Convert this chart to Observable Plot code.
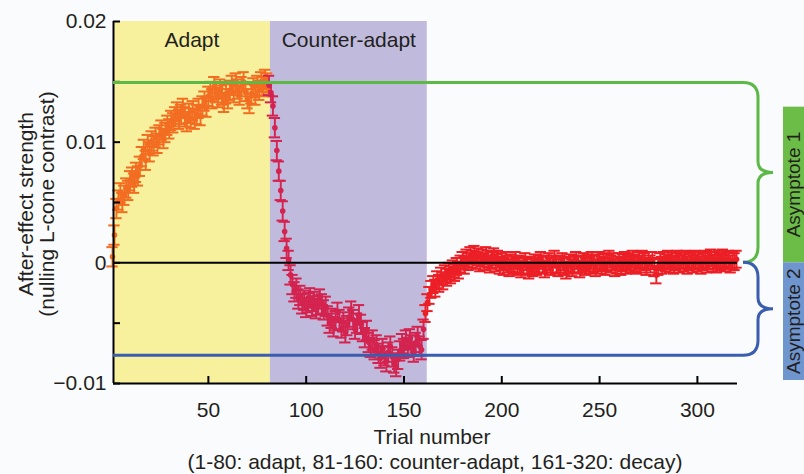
<!DOCTYPE html>
<html>
<head>
<meta charset="utf-8">
<script src="https://cdn.jsdelivr.net/npm/d3@7"></script>
<script src="https://cdn.jsdelivr.net/npm/@observablehq/plot@0.6"></script>
<style>
  html, body { margin: 0; padding: 0; background: #fafbfc; overflow: hidden; }
  #chart svg { display: block; overflow: hidden; }
</style>
</head>
<body>
<div id="chart"></div>
<script>
// Mean after-effect strength per trial (nulling L-cone contrast)
// Trials 1-80: adapt
const adaptValues = [
  0.0005, 0.0023, 0.0045, 0.0052, 0.0058, 0.0050, 0.0056, 0.0062, 0.0060, 0.0068,
  0.0071, 0.0066, 0.0075, 0.0072, 0.0080, 0.0088, 0.0094, 0.0085, 0.0098, 0.0092,
  0.0101, 0.0097, 0.0104, 0.0099, 0.0106, 0.0110, 0.0103, 0.0108, 0.0114, 0.0111,
  0.0118, 0.0116, 0.0121, 0.0125, 0.0119, 0.0123, 0.0128, 0.0121, 0.0117, 0.0124,
  0.0120, 0.0126, 0.0119, 0.0123, 0.0128, 0.0122, 0.0130, 0.0134, 0.0129, 0.0138,
  0.0142, 0.0136, 0.0146, 0.0141, 0.0137, 0.0144, 0.0139, 0.0133, 0.0140, 0.0136,
  0.0143, 0.0147, 0.0141, 0.0149, 0.0144, 0.0139, 0.0146, 0.0150, 0.0142, 0.0136,
  0.0132, 0.0140, 0.0145, 0.0139, 0.0147, 0.0143, 0.0150, 0.0146, 0.0152, 0.0149
];
// Trials 81-160: counter-adapt
const counterValues = [
  0.0147, 0.0141, 0.0130, 0.0112, 0.0093, 0.0076, 0.0060, 0.0043, 0.0026, 0.0012,
  0.0002, -0.0010, -0.0018, -0.0024, -0.0021, -0.0030, -0.0027, -0.0034, -0.0031, -0.0037,
  -0.0033, -0.0029, -0.0036, -0.0032, -0.0038, -0.0035, -0.0030, -0.0034, -0.0039, -0.0036,
  -0.0044, -0.0050, -0.0046, -0.0053, -0.0048, -0.0041, -0.0047, -0.0054, -0.0049, -0.0058,
  -0.0052, -0.0045, -0.0040, -0.0047, -0.0055, -0.0050, -0.0043, -0.0051, -0.0057, -0.0062,
  -0.0056, -0.0066, -0.0070, -0.0064, -0.0072, -0.0068, -0.0075, -0.0079, -0.0071, -0.0077,
  -0.0082, -0.0074, -0.0069, -0.0078, -0.0083, -0.0086, -0.0080, -0.0073, -0.0067, -0.0071,
  -0.0064, -0.0070, -0.0063, -0.0068, -0.0074, -0.0066, -0.0061, -0.0069, -0.0072, -0.0055
];
// Trials 161-320: decay
const decayValues = [
  -0.0042, -0.0033, -0.0027, -0.0022, -0.0018, -0.0021, -0.0014, -0.0017, -0.0011, -0.0015,
  -0.0009, -0.0012, -0.0007, -0.0010, -0.0005, -0.0008, -0.0003, -0.0006, -0.0001, 0.0002,
  -0.0002, 0.0004, 0.0001, 0.0006, 0.0003, 0.0007, 0.0002, 0.0005, 0.0000, 0.0004,
  0.0001, 0.0006, 0.0003, -0.0001, 0.0002, 0.0005, 0.0000, 0.0003, -0.0002, 0.0001,
  -0.0003, 0.0002, -0.0001, -0.0004, 0.0000, -0.0002, 0.0002, -0.0003, -0.0001, -0.0005,
  -0.0002, 0.0001, -0.0003, -0.0006, -0.0002, -0.0004, 0.0000, -0.0003, -0.0001, 0.0002,
  -0.0002, -0.0005, -0.0001, 0.0001, -0.0003, -0.0001, 0.0003, -0.0002, -0.0004, -0.0001,
  0.0001, -0.0003, -0.0006, -0.0002, 0.0000, -0.0004, -0.0001, 0.0002, -0.0002, -0.0005,
  -0.0001, 0.0001, -0.0003, 0.0000, -0.0002, 0.0002, -0.0001, -0.0004, 0.0000, 0.0002,
  -0.0002, 0.0001, -0.0003, 0.0000, 0.0003, -0.0001, 0.0001, -0.0004, -0.0002, 0.0001,
  -0.0003, 0.0000, 0.0002, -0.0002, 0.0001, -0.0001, 0.0003, 0.0000, -0.0002, 0.0002,
  -0.0001, 0.0003, 0.0001, -0.0003, 0.0002, -0.0001, 0.0002, -0.0004, -0.0010, -0.0003,
  0.0001, -0.0002, 0.0002, 0.0000, 0.0003, -0.0001, 0.0002, -0.0002, 0.0001, 0.0003,
  -0.0001, 0.0002, 0.0000, 0.0003, -0.0002, 0.0001, 0.0002, -0.0001, 0.0003, 0.0000,
  0.0002, -0.0002, 0.0001, 0.0003, -0.0001, 0.0002, 0.0004, 0.0000, 0.0002, -0.0001,
  0.0003, 0.0001, 0.0004, 0.0000, 0.0002, 0.0003, -0.0001, 0.0002, 0.0001, 0.0003
];
// Standard error of the mean, per phase
const phaseSem = [0.0008, 0.0008, 0.0007];
const phaseNames = ["adapt", "counter", "decay"];
const phaseColors = ["#f26d22", "#d4234f", "#ec1f26"];
// Phase boundaries on the trial axis and band fills
const phaseEdges = [1.5, 81.7, 161.9];
const bandLabels = ["Adapt", "Counter-adapt"];
const bandFills = ["#f7f19d", "#c0bbdc"];
// Fitted asymptotes
const asymptotes = [0.0149, -0.0077];
const asymptoteLabels = ["Asymptote 1", "Asymptote 2"];
const asymptoteLineColors = ["#5cb947", "#3a5db0"];
const asymptoteBoxColors = ["#6bbd47", "#6f95cf"];
// Axis ticks
const xTicks = [50, 100, 150, 200, 250, 300];
const yTicks = [-0.01, -0.005, 0, 0.005, 0.01, 0.015, 0.02];
const yTickLabels = [-0.01, 0, 0.01, 0.02];
const xDomain = [1.5, 320.5];
const yDomain = [-0.01, 0.02];

const rows = [
  ...adaptValues.map((v, i) => ({trial: i + 1, value: v, phase: 0})),
  ...counterValues.map((v, i) => ({trial: i + 81, value: v, phase: 1})),
  ...decayValues.map((v, i) => ({trial: i + 161, value: v, phase: 2}))
].map(d => ({...d, name: phaseNames[d.phase], lo: d.value - phaseSem[d.phase], hi: d.value + phaseSem[d.phase]}));

const bands = bandLabels.map((label, i) => ({label, x1: phaseEdges[i], x2: phaseEdges[i + 1], fill: bandFills[i]}));

const W = 804, H = 474;
const mL = 113, mR = 67, mT = 21, mB = 91;
const plotW = W - mL - mR, plotH = H - mT - mB;
const capHalf = 2.9;
const font = "'Liberation Sans', Arial, Helvetica, sans-serif";
const ink = "#231f20";

const fmtY = d => d === 0 ? "0" : (d < 0 ? "\u2212" : "") + Math.abs(d).toFixed(2);

const plot = Plot.plot({
  width: W,
  height: H,
  marginLeft: mL,
  marginRight: mR,
  marginTop: mT,
  marginBottom: mB,
  style: {fontFamily: font, fontSize: "21px", color: ink, background: "transparent", overflow: "hidden"},
  x: {domain: xDomain, axis: null},
  y: {domain: yDomain, axis: null},
  color: {domain: phaseNames, range: phaseColors},
  marks: [
    Plot.rect(bands, {x1: "x1", x2: "x2", y1: yDomain[0], y2: yDomain[1], fill: d => d.fill}),
    Plot.text(bands, {x: d => (d.x1 + d.x2) / 2, y: yDomain[1], dy: 19, text: "label", fontSize: 21, fill: ink}),
    // error bars with caps
    Plot.ruleX(rows, {x: "trial", y1: "lo", y2: "hi", stroke: "name", strokeWidth: 1.9}),
    Plot.ruleY(rows, {y: "hi", x1: d => d.trial - capHalf, x2: d => d.trial + capHalf, stroke: "name", strokeWidth: 2}),
    Plot.ruleY(rows, {y: "lo", x1: d => d.trial - capHalf, x2: d => d.trial + capHalf, stroke: "name", strokeWidth: 2}),
    Plot.dot(rows, {x: "trial", y: "value", r: 2.8, fill: "name", stroke: null}),
    // zero reference
    Plot.ruleY([0], {x1: xDomain[0], x2: xDomain[1], stroke: "#000", strokeWidth: 2}),
    // axes
    Plot.ruleX([xDomain[0]], {y1: yDomain[0], y2: yDomain[1], stroke: "#000", strokeWidth: 2}),
    Plot.ruleY([yDomain[0]], {x1: xDomain[0], x2: xDomain[1], stroke: "#000", strokeWidth: 2}),
    Plot.tickX(xTicks, {x: d => d, insetTop: plotH - 7, stroke: "#000", strokeWidth: 2}),
    Plot.tickY(yTicks, {y: d => d, insetRight: plotW - 7, stroke: "#000", strokeWidth: 2}),
    Plot.axisX({ticks: xTicks, tickSize: 0, tickPadding: 19, label: null, fontSize: 21}),
    Plot.axisY({ticks: yTickLabels, tickSize: 0, tickPadding: 7, tickFormat: fmtY, label: null, fontSize: 21})
  ]
});

const svg = d3.select(plot);
const sx = plot.scale("x"), sy = plot.scale("y");
const X = v => sx.apply(v), Y = v => sy.apply(v);
const xRight = X(xDomain[1]);

// Asymptote brackets: a horizontal line at each asymptote joined to the zero line by a brace
const xEnd = xRight + 6, xSpine = xRight + 21, xTip = xRight + 36;
function bracePath(yLine, yZero) {
  const s = Math.sign(yZero - yLine), r = 15, rt = 11;
  const yMid = (yLine + yZero) / 2;
  return `M${X(xDomain[0])},${yLine}H${xEnd}` +
    `Q${xSpine},${yLine} ${xSpine},${yLine + s * r}` +
    `V${yMid - s * rt}Q${xSpine},${yMid} ${xTip},${yMid}` +
    `Q${xSpine},${yMid} ${xSpine},${yMid + s * rt}` +
    `V${yZero - s * r}Q${xSpine},${yZero} ${xEnd},${yZero}`;
}
const g = svg.append("g");
asymptotes.forEach((a, i) => {
  g.append("path")
    .attr("d", bracePath(Y(a), Y(0)))
    .attr("fill", "none")
    .attr("stroke", asymptoteLineColors[i])
    .attr("stroke-width", 3);
});

// Asymptote tags at the right edge
const boxX = xRight + 46;
const boxSpans = [[Y(0.0129), Y(0)], [Y(0), Y(-0.00975)]];
boxSpans.forEach(([y0, y1], i) => {
  g.append("rect")
    .attr("x", boxX).attr("y", y0)
    .attr("width", W - boxX + 10).attr("height", y1 - y0)
    .attr("fill", asymptoteBoxColors[i]);
  g.append("text")
    .attr("transform", `translate(${W - 4},${(y0 + y1) / 2}) rotate(-90)`)
    .attr("text-anchor", "middle")
    .attr("font-family", font).attr("font-size", 19).attr("fill", ink)
    .text(asymptoteLabels[i]);
});

// Axis titles
const yMidPlot = (Y(yDomain[0]) + Y(yDomain[1])) / 2 + 2;
[["After-effect strength", 33], ["(nulling L-cone contrast)", 54]].forEach(([t, bx]) => {
  svg.append("text")
    .attr("transform", `translate(${bx},${yMidPlot}) rotate(-90)`)
    .attr("text-anchor", "middle")
    .attr("font-family", font).attr("font-size", 21).attr("fill", ink)
    .text(t);
});
const xMidPlot = (X(xDomain[0]) + xRight) / 2 + 7;
svg.append("text").attr("x", xMidPlot).attr("y", 444)
  .attr("text-anchor", "middle").attr("font-family", font).attr("font-size", 21).attr("fill", ink)
  .text("Trial number");
svg.append("text").attr("x", xMidPlot + 3).attr("y", 469)
  .attr("text-anchor", "middle").attr("font-family", font).attr("font-size", 21).attr("fill", ink)
  .text("(1-80: adapt, 81-160: counter-adapt, 161-320: decay)");

document.getElementById("chart").append(plot);
</script>
</body>
</html>
